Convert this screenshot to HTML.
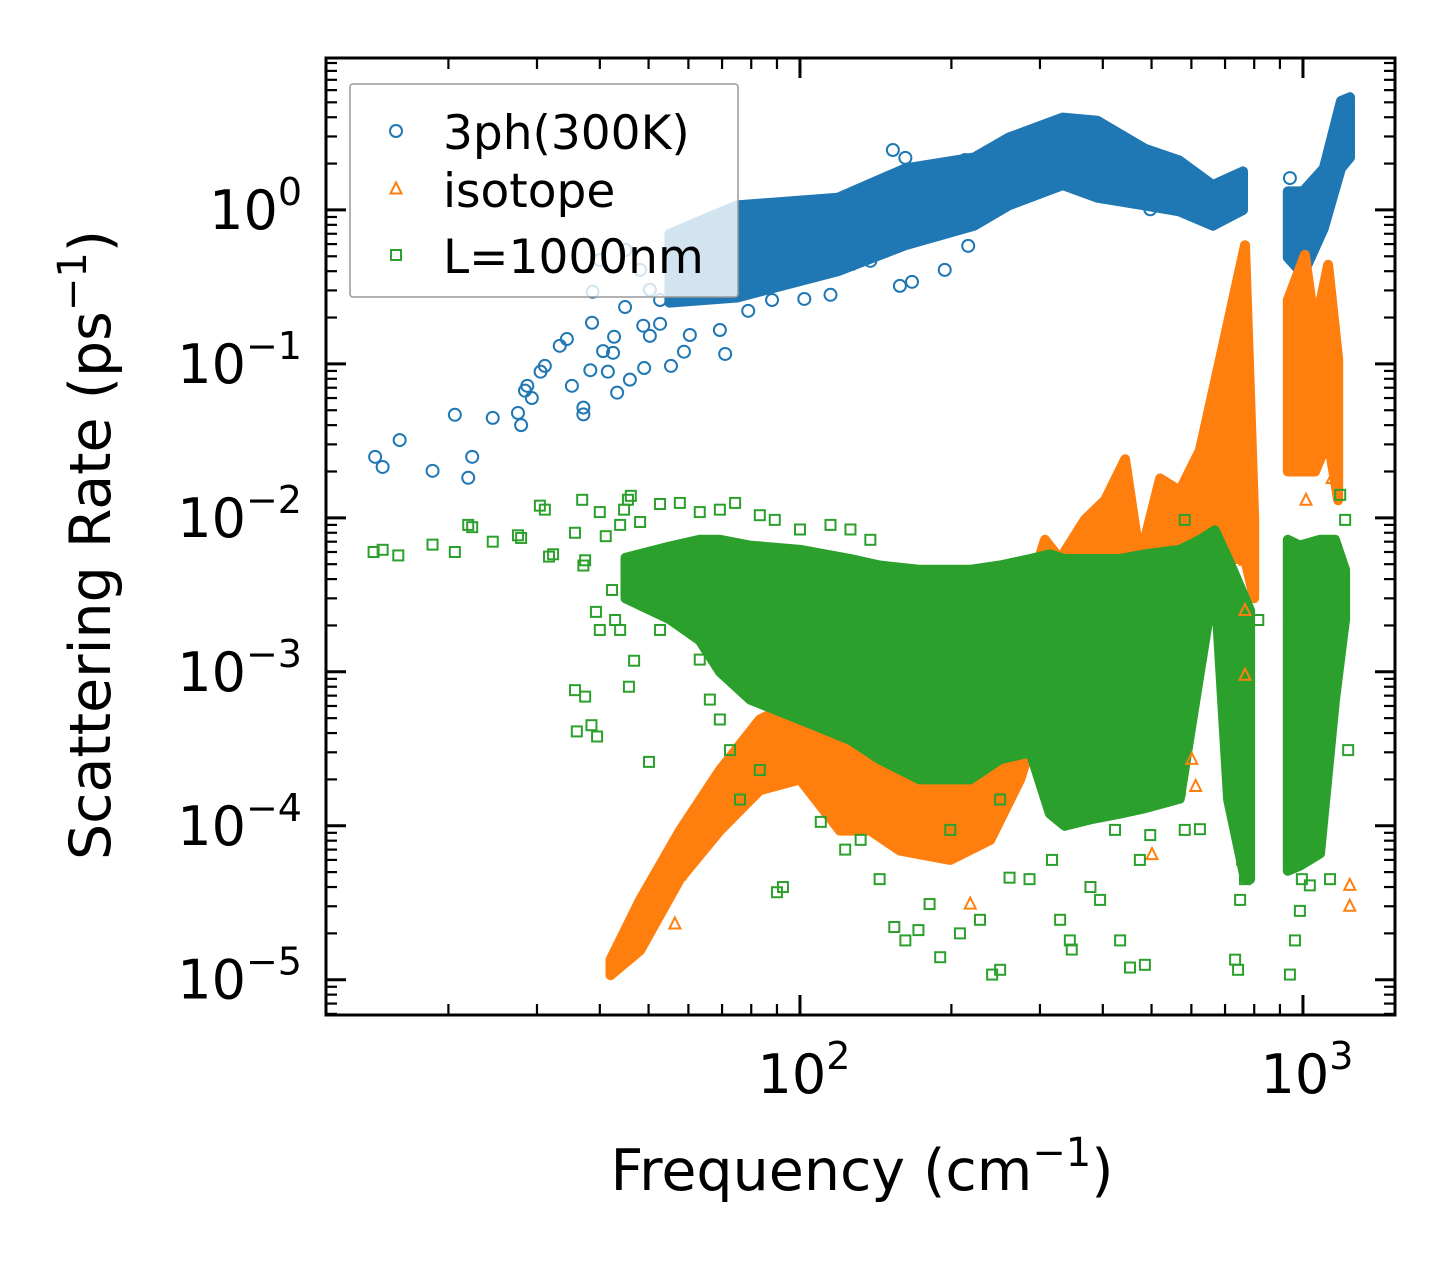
<!DOCTYPE html>
<html><head><meta charset="utf-8"><style>
html,body{margin:0;padding:0;background:#fff;}
svg{display:block;font-family:"DejaVu Sans","Liberation Sans",sans-serif;}
</style></head><body>
<svg id="chart" width="1455" height="1265" viewBox="0 0 1455 1265" xmlns="http://www.w3.org/2000/svg">
<g id="bands"></g><g id="marks"></g><g id="axes"></g><g id="legend"></g>
</svg>
<script>
// ---- data ----
const xTicks = [100, 1000];
const xTickLabels = ["10", "10"];
const xTickExps = ["2", "3"];
const yTicks = [1, 0.1, 0.01, 0.001, 0.0001, 0.00001];
const yTickExps = ["0", "−1", "−2", "−3", "−4", "−5"];
const seriesNames = ["3ph(300K)", "isotope", "L=1000nm"];
// dense bands: [freq, low, high]
const band3ph = [[55,0.25,0.7],[75,0.27,1.07],[119,0.40,1.2],[162,0.59,1.86],[222,0.79,2.19],[260,1.07,2.95],[333,1.45,3.98],[390,1.2,3.8],[485,1.07,2.5],[567,0.98,2.1],[662,0.79,1.45],[760,1.0,1.78]];
const band3phB = [[933,0.49,1.32],[1000,0.38,1.32],[1100,0.76,1.86],[1190,1.86,5.1],[1240,2.19,5.4]];
const bandIso = [[42,1.07e-5,1.35e-5],[48.1,1.55e-5,3.3e-5],[57.7,4.5e-5,9.3e-5],[69.3,9.3e-5,2.3e-4],[83.2,1.7e-4,4.9e-4],[100,2.0e-4,6.6e-4],[120,9.3e-5,4.2e-4],[138,9.3e-5,2.7e-4],[158,6.9e-5,2.7e-4],[199,6.0e-5,2.0e-4],[239,8.1e-5,2.7e-4],[274,2.0e-4,2.2e-3],[307,6.6e-4,7.2e-3],[329,1.4e-3,5.4e-3],[369,1.4e-3,9.8e-3],[404,1.6e-3,1.3e-2],[443,2.2e-3,2.4e-2],[474,1.6e-3,5.4e-3],[520,2.2e-3,1.8e-2],[569,2.2e-3,1.5e-2],[624,2.2e-3,2.75e-2],[684,5.4e-3,0.107],[767,5.4e-3,0.59],[800,3.0e-3,1.0e-2]];
const bandIsoB = [[933,0.02,0.26],[1009,0.02,0.51],[1057,0.02,0.17],[1122,0.032,0.44],[1175,0.013,0.107]];
const bandL = [[45,3.0e-3,5.5e-3],[55,2.2e-3,6.5e-3],[63.2,1.6e-3,7.2e-3],[69.3,1.0e-3,7.2e-3],[79.6,6.6e-4,6.6e-3],[100,4.9e-4,6.2e-3],[126,3.6e-4,5.4e-3],[144,2.7e-4,4.9e-3],[173,2.0e-4,4.6e-3],[218,2.0e-4,4.6e-3],[250,2.7e-4,4.9e-3],[287,3.0e-4,5.4e-3],[314,1.2e-4,5.8e-3],[336,1.0e-4,5.4e-3],[378,1.1e-4,5.4e-3],[433,1.2e-4,5.4e-3],[485,1.3e-4,5.8e-3],[569,1.5e-4,6.2e-3],[624,1.0e-3,7.2e-3],[668,4.0e-3,8.3e-3],[710,1.48e-4,5.4e-3],[767,4.5e-5,3.0e-3],[785,4.5e-5,2.5e-3]];
const bandLB = [[933,5.1e-5,7.2e-3],[986,5.5e-5,6.6e-3],[1081,6.6e-5,7.2e-3],[1158,6.6e-4,7.2e-3],[1213,2.2e-3,4.6e-3]];
// scattered points: [freq, rate]
const pts3ph = [[14.3,0.0249],[14.8,0.0214],[16.0,0.032],[18.6,0.0202],[20.6,0.0467],[21.9,0.0182],[22.3,0.0249],[24.5,0.0446],[27.5,0.048],[27.9,0.040],[28.4,0.067],[30.5,0.089],[31.1,0.097],[28.7,0.072],[29.3,0.060],[35.2,0.072],[37.1,0.052],[37.1,0.047],[38.3,0.091],[41.5,0.089],[43.3,0.065],[42.7,0.150],[45.9,0.079],[49.0,0.094],[42.5,0.118],[33.3,0.131],[34.4,0.145],[40.6,0.121],[55.4,0.097],[48.8,0.177],[52.7,0.182],[58.8,0.120],[71.0,0.116],[38.6,0.185],[44.9,0.234],[50.3,0.152],[60.4,0.154],[69.3,0.166],[78.9,0.221],[88.0,0.260],[102,0.264],[115,0.281],[127,0.446],[138,0.467],[158,0.321],[167,0.341],[153,2.45],[162,2.18],[213,2.11],[216,0.584],[194,0.408],[497,1.01],[508,1.35],[942,1.61],[40.0,0.473],[38.7,0.294],[48.1,0.408],[50.3,0.303],[63.2,0.473],[52.7,0.26],[57.7,0.351],[76.0,0.741],[91.2,1.0],[105,1.07],[45,0.55],[60,0.62]];
const ptsIso = [[1239,4.1e-5],[1239,3.0e-5],[501,6.5e-5],[601,2.7e-4],[612,1.8e-4],[767,9.5e-4],[767,2.5e-3],[767,5.3e-3],[218,3.1e-5],[56.4,2.3e-5],[52.7,3.1e-5],[57.7,4.8e-5],[743,0.0121],[733,0.024],[723,0.037],[750,0.063],[1143,0.018],[1014,0.013]];
const ptsL = [[14.2,6.0e-3],[14.8,6.2e-3],[15.9,5.7e-3],[18.6,6.7e-3],[20.6,6.0e-3],[21.9,9.0e-3],[22.3,8.7e-3],[24.5,7.0e-3],[27.5,7.7e-3],[27.9,7.4e-3],[30.4,0.0120],[31.1,0.0113],[31.7,5.6e-3],[32.3,5.8e-3],[35.7,8.0e-3],[36.9,0.0131],[37.1,4.9e-3],[37.4,5.3e-3],[40.0,0.0109],[41.1,7.6e-3],[43.9,9.0e-3],[45.5,0.0131],[46.1,0.0139],[44.7,0.0113],[48.1,9.4e-3],[52.7,0.0123],[57.7,0.0125],[63.2,0.0109],[69.3,0.0113],[74.3,0.0125],[83.2,0.0104],[89.1,9.7e-3],[100,8.4e-3],[115,9.0e-3],[126,8.4e-3],[138,7.2e-3],[35.7,7.6e-4],[37.4,6.9e-4],[36.0,4.1e-4],[38.5,4.5e-4],[39.5,3.8e-4],[45.7,8.0e-4],[50.1,2.6e-4],[46.8,1.18e-3],[42.3,3.4e-3],[42.9,2.17e-3],[43.9,1.87e-3],[39.3,2.45e-3],[40.0,1.87e-3],[48.1,5.3e-3],[50.3,2.9e-3],[52.7,1.87e-3],[60.4,2.17e-3],[63.2,1.2e-3],[66.2,6.6e-4],[69.3,4.9e-4],[72.6,3.1e-4],[83.2,2.3e-4],[76.0,1.48e-4],[90.0,3.7e-5],[92.5,4.0e-5],[110,1.06e-4],[123,7.0e-5],[154,2.2e-5],[162,1.8e-5],[172,2.1e-5],[190,1.4e-5],[208,2.0e-5],[228,2.45e-5],[241,1.08e-5],[250,1.16e-5],[181,3.1e-5],[144,4.5e-5],[132,8.1e-5],[261,4.6e-5],[286,4.5e-5],[317,6.0e-5],[329,2.45e-5],[344,1.8e-5],[347,1.57e-5],[395,3.3e-5],[433,1.8e-5],[453,1.2e-5],[485,1.25e-5],[569,1.7e-4],[582,9.4e-5],[733,1.35e-5],[743,1.16e-5],[750,3.3e-5],[767,4.5e-5],[757,6.0e-5],[942,1.08e-5],[964,1.8e-5],[986,2.8e-5],[995,4.5e-5],[1032,4.1e-5],[1132,4.5e-5],[1230,3.1e-4],[1213,9.7e-3],[1186,0.0141],[582,9.7e-3],[479,3.95e-3],[716,2.3e-3],[815,2.17e-3],[986,2.17e-3],[624,9.5e-5],[378,4.0e-5],[395,1.27e-4],[423,9.4e-5],[474,6.0e-5],[497,8.7e-5],[250,1.48e-4],[199,9.4e-5]];

// ---- axes ----
const L=326,R=1395,T=58,B=1015;
const lx0=Math.log10(11.42), lx1=Math.log10(1524);
const ly0=Math.log10(5.9e-6), ly1=Math.log10(9.7);
const X=f=>L+(Math.log10(f)-lx0)/(lx1-lx0)*(R-L);
const Y=r=>B-(Math.log10(r)-ly0)/(ly1-ly0)*(B-T);
const NS="http://www.w3.org/2000/svg";
function mk(tag,attrs,parent){const e=document.createElementNS(NS,tag);for(const k in attrs)e.setAttribute(k,attrs[k]);parent.appendChild(e);return e;}
const C=["#1f77b4","#ff7f0e","#2ca02c"];
const gB=document.getElementById('bands'),gM=document.getElementById('marks'),gA=document.getElementById('axes'),gL=document.getElementById('legend');

function band(data,color,name){
  const up=data.map(d=>X(d[0]).toFixed(1)+','+Y(d[2]).toFixed(1));
  const lo=data.slice().reverse().map(d=>X(d[0]).toFixed(1)+','+Y(d[1]).toFixed(1));
  const p=mk('polygon',{points:up.concat(lo).join(' '),fill:color,stroke:color,'stroke-width':10,'stroke-linejoin':'round'},gB);
  
  
}
function marker(kind,x,y,color,parent){
  let e;
  if(kind===0) e=mk('circle',{cx:x,cy:y,r:6,fill:'none',stroke:color,'stroke-width':2},parent);
  else if(kind===1) e=mk('polygon',{points:`${x},${y-6.5} ${x+5.5},${y+4.5} ${x-5.5},${y+4.5}`,fill:'none',stroke:color,'stroke-width':2},parent);
  else e=mk('rect',{x:x-5,y:y-5,width:10,height:10,fill:'none',stroke:color,'stroke-width':2},parent);
  return e;
}
function pts(data,kind,name){
  const g=mk('g',{},gM);
  
  
  data.forEach(d=>{const e=marker(kind,X(d[0]),Y(d[1]),C[kind],g);
    
    });
}
band(band3ph,C[0],'3ph-band');band(band3phB,C[0],'3ph-band-high');pts(pts3ph,0,'3ph-series');
band(bandIso,C[1],'isotope-band');band(bandIsoB,C[1],'isotope-band-high');pts(ptsIso,1,'isotope-series');
band(bandL,C[2],'boundary-band');band(bandLB,C[2],'boundary-band-high');pts(ptsL,2,'boundary-series');

const fr=mk('rect',{x:L,y:T,width:R-L,height:B-T,fill:'none',stroke:'#000','stroke-width':3},gA);


for(let d=10;d<=1000;d*=10){for(let m=1;m<10;m++){const v=d*m;const x=X(v);if(x<L||x>R)continue;
  const len=m===1?20:11,w=m===1?3:2.2;
  mk('line',{x1:x,y1:B,x2:x,y2:B-len,stroke:'#000','stroke-width':w},gA);
  mk('line',{x1:x,y1:T,x2:x,y2:T+len,stroke:'#000','stroke-width':w},gA);}}
xTicks.forEach((v,i)=>{const t=mk('text',{x:X(v)+4,y:1093,'font-size':54,'text-anchor':'middle',fill:'#000'},gA);
  
  
  t.innerHTML=xTickLabels[i]+'<tspan dy="-24" font-size="38">'+xTickExps[i]+'</tspan>';});
for(let d=1e-6;d<=10;d*=10){for(let m=1;m<10;m++){const v=d*m;const y=Y(v);if(y<T||y>B)continue;
  const len=m===1?20:11,w=m===1?3:2.2;
  mk('line',{x1:L,y1:y,x2:L+len,y2:y,stroke:'#000','stroke-width':w},gA);
  mk('line',{x1:R,y1:y,x2:R-len,y2:y,stroke:'#000','stroke-width':w},gA);}}
yTicks.forEach((v,i)=>{const t=mk('text',{x:302,y:Y(v)+19,'font-size':54,'text-anchor':'end',fill:'#000'},gA);
  
  
  t.innerHTML='10<tspan dy="-24" font-size="38">'+yTickExps[i]+'</tspan>';});
const xt=mk('text',{x:862,y:1190,'font-size':57,'text-anchor':'middle',fill:'#000'},gA);


xt.innerHTML='Frequency (cm<tspan dy="-24" font-size="40">−1</tspan><tspan dy="24">)</tspan>';
const yt=mk('text',{x:0,y:0,'font-size':57,'text-anchor':'middle',fill:'#000',transform:'translate(110,545) rotate(-90)'},gA);


yt.innerHTML='Scattering Rate (ps<tspan dy="-24" font-size="40">−1</tspan><tspan dy="24">)</tspan>';
const lb=mk('rect',{x:350,y:84,width:388,height:213,rx:3,fill:'#fff','fill-opacity':0.8,stroke:'#999','stroke-width':1.5},gL);


const rowsY=[131,189,255];
seriesNames.forEach((n,i)=>{
  const g=mk('g',{},gL);
  
  
  marker(i,396,rowsY[i],C[i],g);
  const t=mk('text',{x:443,y:rowsY[i]+18,'font-size':47,fill:'#000'},g);
  t.textContent=n;
});
</script>
</body></html>
